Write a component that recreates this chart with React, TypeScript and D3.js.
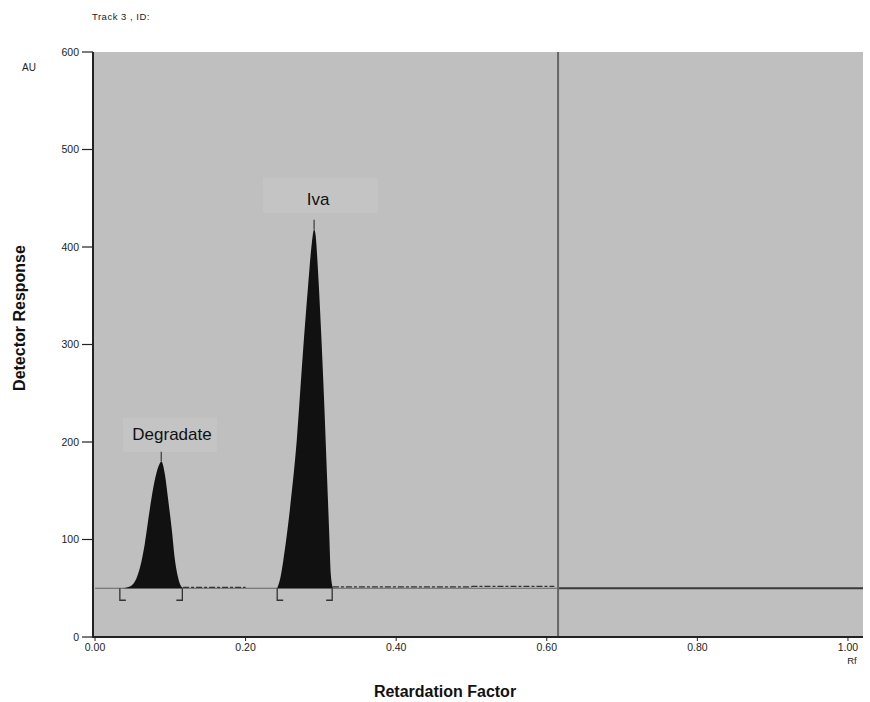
import React from "react";
import * as d3 from "d3";

const yTicks = [0, 100, 200, 300, 400, 500, 600];
const xTicks = [0, 0.2, 0.4, 0.6, 0.8, 1.0];
const xTickLabels = ["0.00", "0.20", "0.40", "0.60", "0.80", "1.00"];

const baselineValue = 50;
const markerRf = 0.615;

// Degradate peak trace [Rf, AU]
const degradateRf = [0.037, 0.047, 0.055, 0.06, 0.066, 0.073, 0.08, 0.086, 0.088, 0.093, 0.097, 0.102, 0.106, 0.11, 0.113, 0.117];
const degradateAU = [50, 52, 60, 72, 95, 132, 163, 178, 180, 166, 142, 110, 80, 62, 54, 50];
const degradateTickTop = 190;
const degradateBrackets = [0.033, 0.116];

// Iva peak trace
const ivaRf = [0.242, 0.246, 0.25, 0.259, 0.268, 0.276, 0.283, 0.288, 0.291, 0.293, 0.296, 0.3, 0.304, 0.308, 0.311, 0.313, 0.316];
const ivaAU = [50, 60, 78, 132, 202, 290, 360, 404, 418, 412, 378, 318, 248, 168, 108, 66, 50];
const ivaTickTop = 428;
const ivaBrackets = [0.242, 0.315];

// baseline noise trace segments [from Rf, to Rf, AU]
const noiseSegments: [number, number, number][] = [
  [0.117, 0.2, 51],
  [0.316, 0.5, 51.5],
  [0.5, 0.61, 52],
];

const FONT = "'Liberation Sans', Arial, sans-serif";

export default function App() {
  const W = 870;
  const H = 702;
  const x = d3.scaleLinear().domain([0, 1.02]).range([95, 863]);
  const y = d3.scaleLinear().domain([0, 600]).range([637, 52]);

  const area = d3
    .area<[number, number]>()
    .x((d) => x(d[0]))
    .y0(y(baselineValue))
    .y1((d) => y(d[1]))
    .curve(d3.curveMonotoneX);

  const degData = degradateRf.map((r, i) => [r, degradateAU[i]] as [number, number]);
  const ivaData = ivaRf.map((r, i) => [r, ivaAU[i]] as [number, number]);

  const degApex = degData.reduce((a, b) => (b[1] > a[1] ? b : a));
  const ivaApex = ivaData.reduce((a, b) => (b[1] > a[1] ? b : a));

  const bracket = (rf: number, dir: number, key: string) => {
    const bx = x(rf);
    const y0 = y(baselineValue);
    return (
      <path
        key={key}
        d={`M${bx},${y0} L${bx},${y0 + 12} L${bx + dir * 6},${y0 + 12}`}
        fill="none"
        stroke="#333"
        strokeWidth={1.3}
      />
    );
  };

  return (
    <svg width={W} height={H} style={{ display: "block", position: "absolute", left: 0, top: 0, background: "#fff" }}>
      <rect x={0} y={0} width={W} height={H} fill="#fff" />
      {/* plot background */}
      <rect x={x(0) - 1} y={y(600)} width={x(1.02) - x(0) + 1} height={y(0) - y(600)} fill="#bfbfbf" />
      {/* label boxes */}
      <rect x={123} y={418} width={94} height={34} fill="#c4c4c4" />
      <rect x={263} y={178} width={115} height={35} fill="#c4c4c4" />

      {/* baseline */}
      <line x1={x(0)} x2={x(markerRf)} y1={y(baselineValue)} y2={y(baselineValue)} stroke="#666" strokeWidth={1} />
      <line x1={x(markerRf)} x2={x(1.02)} y1={y(baselineValue)} y2={y(baselineValue)} stroke="#3a3a3a" strokeWidth={2} />
      {noiseSegments.map(([a, b, v], i) => (
        <line
          key={"n" + i}
          x1={x(a)}
          x2={x(b)}
          y1={y(v)}
          y2={y(v)}
          stroke="#333"
          strokeWidth={1.2}
          strokeDasharray="6 2 3 2"
        />
      ))}

      {/* peaks */}
      <path d={area(degData) || ""} fill="#111" />
      <path d={area(ivaData) || ""} fill="#111" />
      <line x1={x(degApex[0])} x2={x(degApex[0])} y1={y(degApex[1])} y2={y(degradateTickTop)} stroke="#444" strokeWidth={1.3} />
      <line x1={x(ivaApex[0])} x2={x(ivaApex[0])} y1={y(ivaApex[1])} y2={y(ivaTickTop)} stroke="#444" strokeWidth={1.3} />
      {bracket(degradateBrackets[0], 1, "b1")}
      {bracket(degradateBrackets[1], -1, "b2")}
      {bracket(ivaBrackets[0], 1, "b3")}
      {bracket(ivaBrackets[1], -1, "b4")}

      {/* vertical marker */}
      <line x1={x(markerRf)} x2={x(markerRf)} y1={y(600)} y2={y(0)} stroke="#666" strokeWidth={2} />

      {/* axes */}
      <line x1={93} x2={93} y1={y(600)} y2={y(0) + 1} stroke="#222" strokeWidth={2} />
      <line x1={92} x2={x(1.02)} y1={y(0)} y2={y(0)} stroke="#222" strokeWidth={2} />

      {yTicks.map((t) => (
        <g key={"y" + t}>
          <line x1={82} x2={93} y1={y(t)} y2={y(t)} stroke="#222" strokeWidth={1.2} />
          <text x={79} y={y(t) + 3.5} textAnchor="end" fontFamily={FONT} fontSize={10.5} fill="#222">
            {t}
          </text>
        </g>
      ))}
      {xTicks.map((t, i) => (
        <g key={"x" + t}>
          <line x1={x(t)} x2={x(t)} y1={y(0)} y2={y(0) + 4} stroke="#222" strokeWidth={1} />
          <text x={x(t)} y={651} textAnchor="middle" fontFamily={FONT} fontSize={10.5} fill="#222">
            {xTickLabels[i]}
          </text>
        </g>
      ))}
      <text x={852} y={664} textAnchor="middle" fontFamily={FONT} fontSize={9.5} fill="#222">
        Rf
      </text>
      <text x={22} y={71} fontFamily={FONT} fontSize={10} fill="#222">
        AU
      </text>
      <text x={92} y={20} fontFamily={FONT} fontSize={9.5} fill="#222" letterSpacing={0.5}>
        Track 3 , ID:
      </text>

      {/* peak labels */}
      <text x={172} y={440} textAnchor="middle" fontFamily={FONT} fontSize={17} fill="#111">
        Degradate
      </text>
      <text x={318} y={205} textAnchor="middle" fontFamily={FONT} fontSize={17} fill="#111">
        Iva
      </text>

      {/* axis titles */}
      <text
        transform={`translate(25,${318}) rotate(-90)`}
        textAnchor="middle"
        fontFamily={FONT}
        fontSize={16}
        fontWeight="bold"
        fill="#111"
      >
        Detector Response
      </text>
      <text x={445} y={697} textAnchor="middle" fontFamily={FONT} fontSize={16} fontWeight="bold" fill="#111">
        Retardation Factor
      </text>
    </svg>
  );
}
